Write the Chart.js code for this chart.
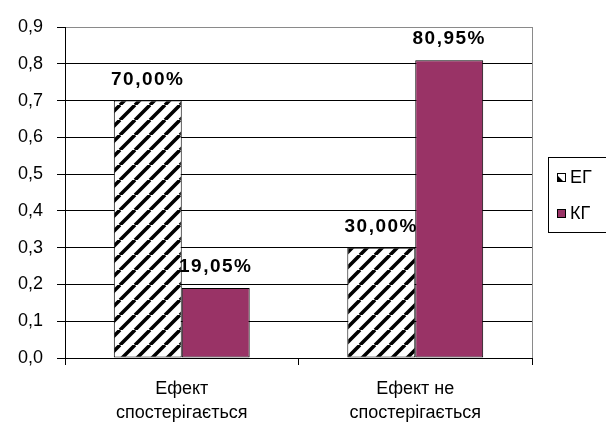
<!DOCTYPE html>
<html>
<head>
<meta charset="utf-8">
<script src="https://cdn.jsdelivr.net/npm/chart.js@4.4.1/dist/chart.umd.min.js"></script>
<style>
  html, body { margin: 0; padding: 0; background: #fff; }
  #wrap { width: 606px; height: 428px; }
</style>
</head>
<body>
<div id="wrap"><canvas id="myChart" width="606" height="428"></canvas></div>
<script>
const categories = [['Ефект', 'спостерігається'], ['Ефект не', 'спостерігається']];
const seriesNames = ['ЕГ', 'КГ'];
const egValues = [0.70, 0.30];
const kgValues = [0.1905, 0.8095];
const yTicks = [0, 0.1, 0.2, 0.3, 0.4, 0.5, 0.6, 0.7, 0.8, 0.9];

const FONT = '"Liberation Sans", Arial, sans-serif';

// diagonal hatch like the old excel fill
function makeHatch() {
  const s = 15;
  const c = document.createElement('canvas');
  c.width = s; c.height = s;
  const g = c.getContext('2d');
  g.fillStyle = '#fff';
  g.fillRect(0, 0, s, s);
  g.strokeStyle = '#000';
  g.lineWidth = 3.6;
  g.beginPath();
  for (const o of [-s, 0, s]) {
    g.moveTo(o, s);
    g.lineTo(o + s, 0);
  }
  g.stroke();
  return document.getElementById('myChart').getContext('2d').createPattern(c, 'repeat');
}
const hatch = makeHatch();

const valueLabels = {
  id: 'valueLabels',
  afterDatasetsDraw(chart) {
    const ctx = chart.ctx;
    ctx.save();
    ctx.font = 'bold 19px ' + FONT;
    ctx.letterSpacing = '1.5px';
    ctx.fillStyle = '#000';
    ctx.textAlign = 'center';
    ctx.textBaseline = 'alphabetic';
    chart.data.datasets.forEach((ds, i) => {
      chart.getDatasetMeta(i).data.forEach((bar, j) => {
        const txt = (ds.data[j] * 100).toFixed(2).replace('.', ',') + '%';
        ctx.fillText(txt, bar.x, bar.y - 16);
      });
    });
    ctx.restore();
  }
};

const frameAndLegend = {
  id: 'frameAndLegend',
  afterDraw(chart) {
    const ctx = chart.ctx;
    const a = chart.chartArea;
    ctx.save();
    // grey right edge of plot area
    ctx.strokeStyle = '#8a8a8a';
    ctx.lineWidth = 1;
    ctx.beginPath();
    ctx.moveTo(a.right + 0.5, a.top);
    ctx.lineTo(a.right + 0.5, a.bottom);
    ctx.stroke();

    // legend box
    ctx.strokeStyle = '#000';
    ctx.strokeRect(548.5, 157.5, 70, 75);
    ctx.font = '18px ' + FONT;
    ctx.textBaseline = 'middle';
    ctx.textAlign = 'left';
    const ys = [177, 213];
    chart.data.datasets.forEach((ds, i) => {
      const x = 557, y = ys[i] - 4;
      if (i === 0) {
        // tiny swatch of the hatch: white with dark lower-left corner
        ctx.fillStyle = '#fff';
        ctx.fillRect(x, y, 8, 8);
        ctx.fillStyle = '#000';
        ctx.beginPath();
        ctx.moveTo(x, y + 2);
        ctx.lineTo(x, y + 8);
        ctx.lineTo(x + 6, y + 8);
        ctx.closePath();
        ctx.fill();
      } else {
        ctx.fillStyle = ds.backgroundColor;
        ctx.fillRect(x, y, 8, 8);
      }
      ctx.strokeStyle = '#000';
      ctx.strokeRect(x + 0.5, y + 0.5, 8, 8);
      ctx.fillStyle = '#000';
      ctx.fillText(ds.label, 570, ys[i] + 1);
    });
    ctx.restore();
  }
};

new Chart(document.getElementById('myChart'), {
  type: 'bar',
  data: {
    labels: categories,
    datasets: [{
      label: seriesNames[0],
      data: egValues,
      backgroundColor: hatch,
      borderColor: '#000',
      borderWidth: 1,
      borderSkipped: false
    }, {
      label: seriesNames[1],
      data: kgValues,
      backgroundColor: '#993366',
      borderColor: '#000',
      borderWidth: 1,
      borderSkipped: false
    }]
  },
  options: {
    responsive: false,
    animation: false,
    devicePixelRatio: 1,
    layout: { padding: { top: 27, right: 74, left: 0, bottom: 0 } },
    datasets: { bar: { barPercentage: 1, categoryPercentage: 0.582 } },
    plugins: {
      legend: { display: false },
      tooltip: { enabled: false }
    },
    scales: {
      x: {
        grid: { drawOnChartArea: false, color: '#000', tickLength: 7, offset: true },
        border: { color: '#000' },
        ticks: { color: '#000', font: { family: FONT, size: 18, lineHeight: 1.28 }, padding: 13, maxRotation: 0 },
        afterFit(s) { s.height = 70; }
      },
      y: {
        min: 0,
        max: 0.9,
        afterBuildTicks(s) { s.ticks = yTicks.map(v => ({ value: v })); },
        grid: {
          color: c => (c.tick && c.tick.value === 0.9) ? '#8a8a8a' : '#000',
          tickColor: '#000',
          tickLength: 8
        },
        border: { color: '#000' },
        ticks: {
          color: '#000',
          font: { family: FONT, size: 18 },
          padding: 14,
          callback: v => v.toFixed(1).replace('.', ',')
        },
        afterFit(s) { s.width = 65; }
      }
    }
  },
  plugins: [valueLabels, frameAndLegend]
});
</script>
</body>
</html>
